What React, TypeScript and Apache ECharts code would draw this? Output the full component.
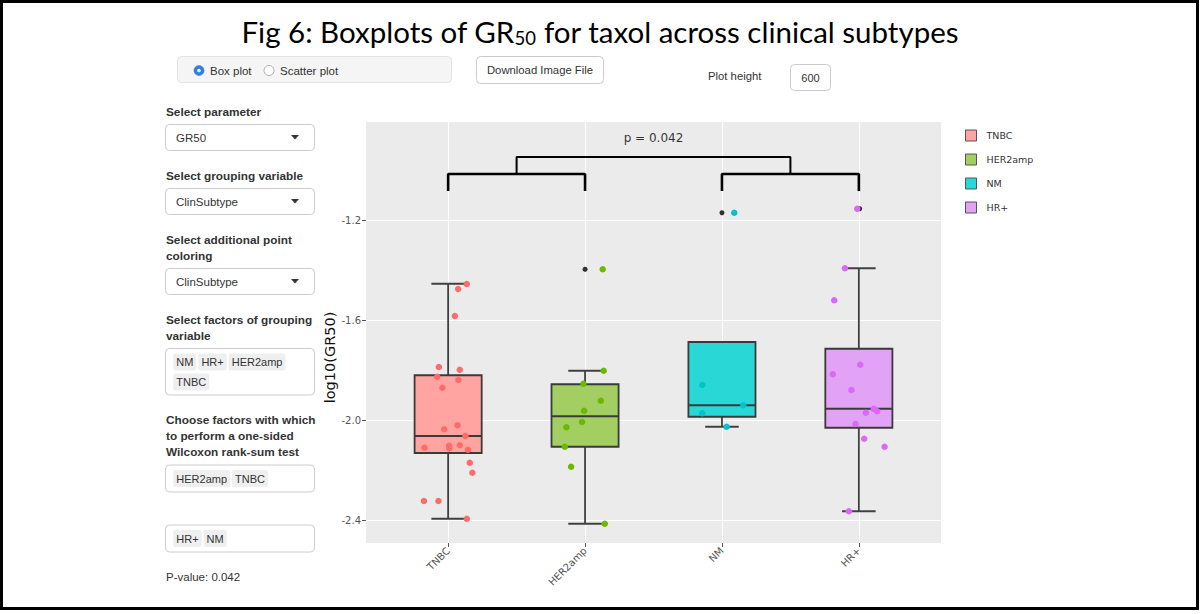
import React, { useEffect, useRef } from "react";
import * as echarts from "echarts";

// ---------- data ----------
const categories = ["TNBC", "HER2amp", "NM", "HR+"];
const pointColors = ["#FF6B6B", "#6DB800", "#00C4C8", "#DA68F8"];
const boxFills = ["#FFA4A1", "#A2CE62", "#29D8D6", "#E2A2F6"];

const boxMin = [-2.395, -2.415, -2.027, -2.365];
const boxQ1 = [-2.132, -2.107, -1.987, -2.031];
const boxMedian = [-2.064, -1.985, -1.941, -1.955];
const boxQ3 = [-1.821, -1.857, -1.688, -1.715];
const boxMax = [-1.455, -1.803, -1.688, -1.393];

const tnbcX = [1.136, 1.073, 1.049, 0.932, 1.085, 0.92, 1.075, 0.958, 1.068, 0.971, 1.126, 0.827, 1.007, 1.009, 1.085, 1.144, 1.158, 1.177, 0.823, 0.929, 1.136];
const tnbcY = [-1.456, -1.476, -1.584, -1.788, -1.799, -1.827, -1.84, -1.871, -2.021, -2.037, -2.064, -2.111, -2.103, -2.113, -2.101, -2.119, -2.171, -2.211, -2.324, -2.324, -2.395];
const her2X = [2.129, 2.136, 1.988, 2.115, 1.993, 1.978, 1.864, 1.852, 1.898, 2.144];
const her2Y = [-1.397, -1.803, -1.855, -1.923, -1.963, -2.008, -2.029, -2.107, -2.187, -2.415];
const nmX = [3.09, 2.856, 3.156, 2.856, 3.034];
const nmY = [-1.171, -1.86, -1.941, -1.973, -2.027];
const hrX = [3.988, 3.898, 3.82, 4.01, 3.81, 3.946, 4.109, 4.134, 4.051, 3.976, 4.039, 4.188, 3.927];
const hrY = [-1.155, -1.393, -1.521, -1.779, -1.817, -1.88, -1.955, -1.965, -1.971, -2.016, -2.075, -2.107, -2.365];

const outlierX = [2, 3, 4.006];
const outlierY = [-1.397, -1.171, -1.155];

const bracketLeft = [[1, -1.084], [1, -1.016], [2, -1.016], [2, -1.084]];
const bracketRight = [[3, -1.084], [3, -1.016], [4, -1.016], [4, -1.084]];
const bracketTop = [[1.5, -1.016], [1.5, -0.948], [3.5, -0.948], [3.5, -1.016]];
const pLabel = "p = 0.042";
const pLabelPos = [2.5, -0.872];

const xTicks = [1, 2, 3, 4];
const yTicks = [-2.4, -2.0, -1.6, -1.2];

const BOX_WIDTH = 0.49;
const CAP_WIDTH = 0.245;

// ---------- UI (decorative widgets) ----------
const UI_FONT = "'Liberation Sans', Arial, sans-serif";
const PLOT_FONT = "'DejaVu Sans', Verdana, sans-serif";

const sidebarLabels: [string, number][] = [
  ["Select parameter", 112],
  ["Select grouping variable", 176],
  ["Select additional point", 240],
  ["coloring", 256],
  ["Select factors of grouping", 320],
  ["variable", 336],
  ["Choose factors with which", 420],
  ["to perform a one-sided", 436],
  ["Wilcoxon rank-sum test", 452],
];
const selects: [string, number][] = [
  ["GR50", 124.5],
  ["ClinSubtype", 188.5],
  ["ClinSubtype", 268.5],
];
const tagBoxes: [number, number][] = [
  [348.5, 46.5],
  [465, 27],
  [525, 27],
];
const tags: [string, number, number][] = [
  ["NM", 173.3, 362],
  ["HR+", 198.4, 362],
  ["HER2amp", 228.7, 362],
  ["TNBC", 173.3, 382],
  ["HER2amp", 173.3, 478.5],
  ["TNBC", 232, 478.5],
  ["HR+", 173.3, 538.5],
  ["NM", 203.6, 538.5],
];

function text(x: number, y: number, t: string, extra: any = {}) {
  return {
    type: "text",
    x,
    y,
    silent: true,
    style: {
      text: t,
      fill: "#333",
      fontFamily: UI_FONT,
      fontSize: 11.5,
      verticalAlign: "middle",
      align: "left",
      ...extra,
    },
  };
}

function buildGraphics() {
  const g: any[] = [];
  g.push({ type: "rect", silent: true, shape: { x: 1.5, y: 1.5, width: 1196, height: 607 }, style: { fill: "none", stroke: "#000", lineWidth: 3 } });
  g.push({ type: "rect", silent: true, shape: { x: 177.5, y: 56.5, width: 274, height: 26, r: 4 }, style: { fill: "#f5f5f5", stroke: "#e3e3e3", lineWidth: 1 } });
  g.push({ type: "circle", silent: true, shape: { cx: 199, cy: 70.5, r: 5 }, style: { fill: "#2f7fe8", stroke: "#2a6fd0", lineWidth: 0.5 } });
  g.push({ type: "circle", silent: true, shape: { cx: 199, cy: 70.5, r: 1.8 }, style: { fill: "#fff" } });
  g.push(text(210, 70.5, "Box plot"));
  g.push({ type: "circle", silent: true, shape: { cx: 269, cy: 70.5, r: 5 }, style: { fill: "#fff", stroke: "#b0b0b0", lineWidth: 1 } });
  g.push(text(280, 70.5, "Scatter plot"));
  g.push({ type: "rect", silent: true, shape: { x: 476.5, y: 56.5, width: 127, height: 27, r: 4 }, style: { fill: "#fff", stroke: "#ccc", lineWidth: 1 } });
  g.push(text(540, 69.5, "Download Image File", { align: "center", fontSize: 11.3 }));
  g.push(text(708, 76, "Plot height", { fontSize: 11.3 }));
  g.push({ type: "rect", silent: true, shape: { x: 790.5, y: 64.5, width: 40, height: 26, r: 4 }, style: { fill: "#fff", stroke: "#ccc", lineWidth: 1 } });
  g.push(text(810.5, 78, "600", { align: "center", fontSize: 11 }));
  sidebarLabels.forEach(([t, y]) => g.push(text(166, y, t, { fontWeight: "bold", fontSize: 11.8 })));
  selects.forEach(([t, y]) => {
    g.push({ type: "rect", silent: true, shape: { x: 165.5, y, width: 149, height: 26, r: 4 }, style: { fill: "#fff", stroke: "#ccc", lineWidth: 1 } });
    g.push(text(176, y + 13, t));
    g.push({ type: "polygon", silent: true, shape: { points: [[291, y + 10.5], [299, y + 10.5], [295, y + 15]] }, style: { fill: "#333" } });
  });
  tagBoxes.forEach(([y, h]) => {
    g.push({ type: "rect", silent: true, shape: { x: 165.5, y, width: 149, height: h, r: 4 }, style: { fill: "#fff", stroke: "#ccc", lineWidth: 1 } });
  });
  tags.forEach(([t, x, y]) => {
    g.push({
      type: "text",
      x,
      y,
      silent: true,
      style: {
        text: t,
        fill: "#333",
        fontFamily: UI_FONT,
        fontSize: 11,
        lineHeight: 12,
        verticalAlign: "middle",
        align: "left",
        backgroundColor: "#efefef",
        borderRadius: 2,
        padding: [3, 3, 2, 3],
      },
    });
  });
  g.push(text(166, 577, "P-value: 0.042"));
  return g;
}

function zip(xs: number[], ys: number[]) {
  return xs.map((x, i) => [x, ys[i]]);
}

export default function App() {
  const ref = useRef<HTMLDivElement>(null);
  useEffect(() => {
    if (!ref.current) return;
    const chart = echarts.init(ref.current, null, { renderer: "svg" });
    const pointSets = [zip(tnbcX, tnbcY), zip(her2X, her2Y), zip(nmX, nmY), zip(hrX, hrY)];
    const boxData = categories.map((_, i) => [i + 1, boxMin[i], boxQ1[i], boxMedian[i], boxQ3[i], boxMax[i]]);
    const lineCol = "#404040";

    const option: any = {
      animation: false,
      backgroundColor: "#fff",
      title: {
        text: "{a|Fig 6: Boxplots of GR}{s|50}{a| for taxol across clinical subtypes}",
        left: "center",
        top: 14,
        padding: 0,
        textStyle: {
          fontWeight: "normal",
          rich: {
            a: { fontFamily: "Lato", fontSize: 29.5, fontWeight: "normal", color: "#000", lineHeight: 34 },
            s: { fontFamily: "Lato", fontSize: 18.5, fontWeight: "normal", color: "#000", padding: [14, 0, 0, 0] },
          },
        },
      },
      graphic: buildGraphics(),
      legend: {
        orient: "vertical",
        left: 965,
        top: 129.5,
        padding: 0,
        itemWidth: 11,
        itemHeight: 11,
        itemGap: 12,
        icon: "rect",
        selectedMode: false,
        textStyle: { fontFamily: PLOT_FONT, fontSize: 9.5, color: "#333", padding: [0, 0, 0, 5] },
        data: categories.map((c, i) => ({
          name: c,
          icon: "rect",
          itemStyle: { color: boxFills[i], borderColor: "#555", borderWidth: 1 },
        })),
      },
      grid: {
        left: 366,
        top: 122,
        width: 575,
        height: 421,
        show: true,
        backgroundColor: "#EBEBEB",
        borderWidth: 0,
        containLabel: false,
      },
      xAxis: {
        type: "value",
        min: 0.4,
        max: 4.6,
        axisLine: { show: false },
        axisTick: { show: true, length: 4, customValues: xTicks, lineStyle: { color: "#555" } },
        axisLabel: {
          customValues: xTicks,
          rotate: 45,
          margin: 6,
          fontFamily: PLOT_FONT,
          fontSize: 10,
          color: "#555",
          formatter: (v: number) => categories[Math.round(v) - 1] || "",
        },
        splitLine: { show: true, lineStyle: { color: "#fff", width: 1 } },
      },
      yAxis: {
        type: "value",
        min: -2.492,
        max: -0.808,
        name: "log10(GR50)",
        nameLocation: "middle",
        nameGap: 12,
        nameTextStyle: { fontFamily: PLOT_FONT, fontSize: 14.5, color: "#111", padding: [0, 50, 0, 0] },
        axisLine: { show: false },
        axisTick: { show: true, length: 4, customValues: yTicks, lineStyle: { color: "#555" } },
        axisLabel: {
          customValues: yTicks,
          margin: 5,
          fontFamily: PLOT_FONT,
          fontSize: 10,
          color: "#555",
          formatter: (v: number) => v.toFixed(1),
        },
        splitLine: { show: true, lineStyle: { color: "#fff", width: 1 } },
      },
      series: [
        {
          type: "custom",
          name: "boxes",
          z: 2,
          encode: { x: 0, y: [1, 2, 3, 4, 5] },
          data: boxData,
          renderItem: (params: any, api: any) => {
            const x = api.value(0);
            const lo = api.coord([x, api.value(1)]);
            const q1 = api.coord([x, api.value(2)]);
            const md = api.coord([x, api.value(3)]);
            const q3 = api.coord([x, api.value(4)]);
            const hi = api.coord([x, api.value(5)]);
            const half = api.size([BOX_WIDTH, 0])[0] / 2;
            const cap = api.size([CAP_WIDTH, 0])[0] / 2;
            const cx = lo[0];
            const st = { stroke: lineCol, lineWidth: 1.8 };
            const children: any[] = [
              { type: "line", shape: { x1: cx, y1: q1[1], x2: cx, y2: lo[1] }, style: st },
              { type: "line", shape: { x1: cx - cap, y1: lo[1], x2: cx + cap, y2: lo[1] }, style: st },
            ];
            if (Math.abs(hi[1] - q3[1]) > 0.5) {
              children.push({ type: "line", shape: { x1: cx, y1: q3[1], x2: cx, y2: hi[1] }, style: st });
              children.push({ type: "line", shape: { x1: cx - cap, y1: hi[1], x2: cx + cap, y2: hi[1] }, style: st });
            }
            children.push({
              type: "rect",
              shape: { x: cx - half, y: q3[1], width: half * 2, height: q1[1] - q3[1] },
              style: { fill: boxFills[params.dataIndex], stroke: "#3a3a3a", lineWidth: 1.8 },
            });
            children.push({ type: "line", shape: { x1: cx - half, y1: md[1], x2: cx + half, y2: md[1] }, style: { stroke: "#3a3a3a", lineWidth: 1.8 } });
            return { type: "group", children };
          },
        },
        {
          type: "scatter",
          name: "outliers",
          z: 3,
          symbolSize: 5,
          itemStyle: { color: "#000" },
          data: zip(outlierX, outlierY),
        },
        ...categories.map((c, i) => ({
          type: "scatter",
          name: c,
          z: 4,
          symbolSize: 6.5,
          itemStyle: { color: pointColors[i], opacity: 1 },
          data: pointSets[i],
        })),
        ...[bracketLeft, bracketRight, bracketTop].map((b, i) => ({
          type: "line",
          name: "bracket" + i,
          z: 5,
          symbol: "none",
          silent: true,
          lineStyle: { color: "#000", width: i === 2 ? 2 : 2.6 },
          data: b,
        })),
        {
          type: "scatter",
          name: "plabel",
          z: 5,
          symbolSize: 0,
          silent: true,
          label: {
            show: true,
            position: "inside",
            formatter: pLabel,
            fontFamily: PLOT_FONT,
            fontSize: 12,
            color: "#000",
          },
          data: [pLabelPos],
        },
      ],
    };
    chart.setOption(option);
    return () => chart.dispose();
  }, []);

  return (
    <div
      ref={ref}
      style={{ position: "fixed", left: 0, top: 0, width: 1200, height: 614, background: "#fff" }}
    />
  );
}
